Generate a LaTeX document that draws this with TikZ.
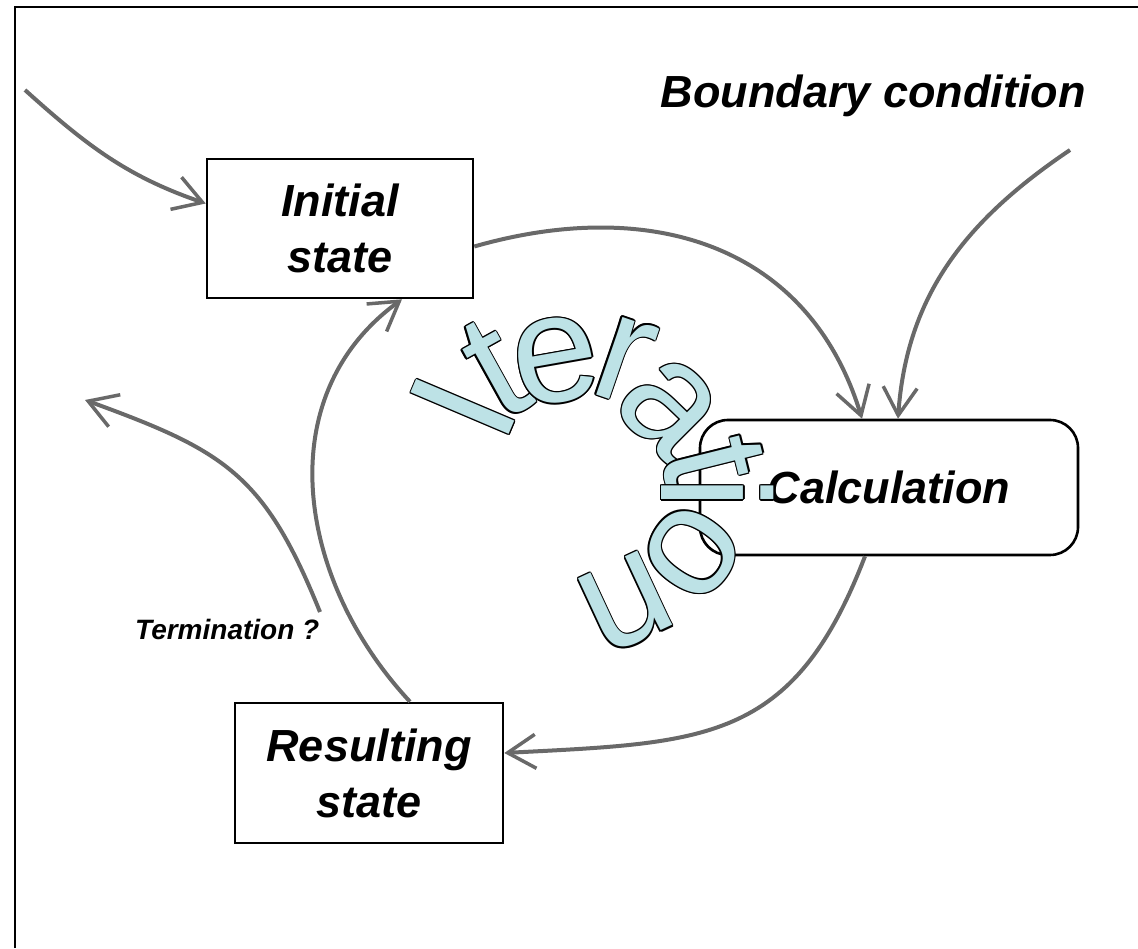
\documentclass[tikz,border=0pt]{standalone}
\usepackage{fontspec}
\setmainfont{Liberation Sans}
\usetikzlibrary{arrows.meta}
\definecolor{iterfill}{RGB}{189,226,230}
\definecolor{pencil}{RGB}{105,105,105}
% outlined letter: black copies round a cyan one
\newcommand\outl[1]{%
  \rlap{\color{black}\kern1.4pt#1}\rlap{\color{black}\kern-1.4pt#1}%
  \rlap{\color{black}\raisebox{1.4pt}{#1}}\rlap{\color{black}\raisebox{-1.4pt}{#1}}%
  \rlap{\color{black}\kern1pt\raisebox{1pt}{#1}}\rlap{\color{black}\kern-1pt\raisebox{1pt}{#1}}%
  \rlap{\color{black}\kern1pt\raisebox{-1pt}{#1}}\rlap{\color{black}\kern-1pt\raisebox{-1pt}{#1}}%
  {\color{iterfill}#1}}
\begin{document}
\begin{tikzpicture}
  [x=1pt,y=1pt,
   statebox/.style={draw,line width=2.6pt,align=center,inner sep=0pt,
     font=\fontsize{45}{56}\selectfont\bfseries\itshape},
   headtext/.style={inner sep=0pt,font=\fontsize{45}{54}\selectfont\bfseries\itshape},
   cyclearrow/.style={draw=pencil,line width=4pt,
     -{Straight Barb[length=28pt,width=34pt,line width=3.5pt]}},
   iterchar/.style={inner sep=0pt,font=\fontsize{155}{155}\selectfont}]
  \useasboundingbox (0,0) rectangle (1138,948);
  \draw[line width=1.6pt] (15,0) -- (15,941) -- (1138,941);
  \node[statebox,minimum width=266,minimum height=139] (ninit) at (340,719.5) {Initial\\state};
  \node[statebox,rounded corners=28,minimum width=378,minimum height=135] (ncalc) at (889,460.5) {Calculation};
  \node[statebox,minimum width=268,minimum height=140] (nres) at (369,175) {Resulting\\state};
  \node[headtext,anchor=base east] (nbound) at (1086,840) {Boundary condition};
  \node[headtext,font=\fontsize{28}{34}\selectfont\bfseries\itshape,anchor=base west] (nterm) at (135,308) {Termination ?};
  \coordinate (nin) at (25,858);
  \coordinate (nbc) at (1070,798);
  \coordinate (nstop) at (320,336);
  \coordinate (nout) at (85,548);
  \draw[cyclearrow] (nin) to[out=-42,in=161] ([yshift=25]ninit.west);
  \draw[cyclearrow] ([yshift=-18]ninit.east) to[out=16,in=107,looseness=1.1] ([xshift=-27]ncalc.north);
  \draw[cyclearrow] (nbc) to[out=214,in=86] ([xshift=9]ncalc.north);
  \draw[cyclearrow] ([xshift=-24]ncalc.south) to[out=249,in=3,looseness=1.25] ([yshift=20]nres.east);
  \draw[cyclearrow] ([xshift=41]nres.north) to[out=133,in=216,looseness=1.05] ([xshift=62]ninit.south);
  \draw[cyclearrow] (nstop) to[out=112,in=-20,looseness=1.2] (nout);
  \foreach \ch/\cx/\cy/\rot [count=\k] in {I/463/541/67,t/495/579/29,e/556/587/10,r/624/588/-19,a/669/541/-45,t/713/486/-76,i/718/455/-90,o/692/396/-125,n/626/345/-155}
    \node[iterchar,rotate=\rot] (nl\k) at (\cx,\cy) {\outl{\ch}};
\end{tikzpicture}
\end{document}
